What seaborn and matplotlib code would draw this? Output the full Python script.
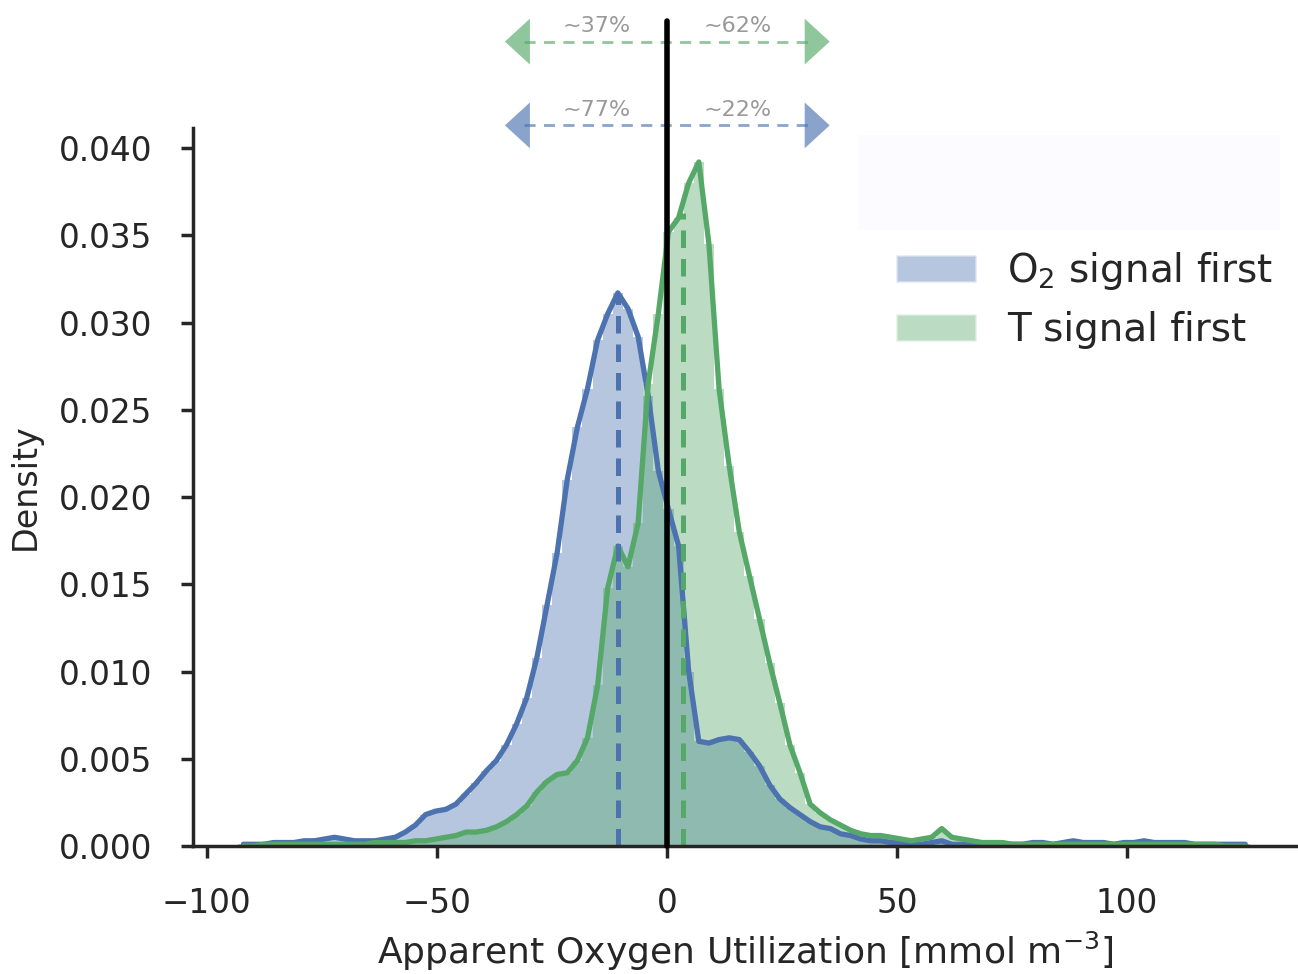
import numpy as np
import pandas as pd
import seaborn as sns
import matplotlib.pyplot as plt
from matplotlib.patches import Rectangle, Patch

# histogram bins (apparent oxygen utilization, mmol m-3)
bin_start = -92.05
bin_width = 2.2

o2_first = [0.0001, 0.0001, 0.0001, 0.0002, 0.0002, 0.0002, 0.0003, 0.0003, 0.0004, 0.0005,
            0.0004, 0.0003, 0.0003, 0.0003, 0.0004, 0.0005, 0.0008, 0.0012, 0.0018, 0.0020,
            0.0021, 0.0024, 0.0030, 0.0036, 0.0043, 0.0049, 0.0058, 0.0070, 0.0085, 0.0108,
            0.0138, 0.0168, 0.0210, 0.0240, 0.0262, 0.0290, 0.0305, 0.0317, 0.0308, 0.0292,
            0.0258, 0.0215, 0.0193, 0.0172, 0.0100, 0.0060, 0.0059, 0.0061, 0.0062, 0.0061,
            0.0054, 0.0046, 0.0035, 0.0027, 0.0022, 0.0018, 0.0014, 0.0011, 0.0010, 0.0007,
            0.0006, 0.0004, 0.0003, 0.0003, 0.0002, 0.0002, 0.0002, 0.0001, 0.0002, 0.0003,
            0.0001, 0.0001, 0.0001, 0.0001, 0.0001, 0.0001, 0.0001, 0.0001, 0.0002, 0.0002,
            0.0001, 0.0002, 0.0003, 0.0002, 0.0002, 0.0002, 0.0001, 0.0002, 0.0002, 0.0003,
            0.0002, 0.0002, 0.0002, 0.0002, 0.0001, 0.0001, 0.0001, 0.0001, 0.0001, 0.0001]

t_first = [0.0000, 0.0000, 0.0001, 0.0001, 0.0001, 0.0001, 0.0001, 0.0001, 0.0001, 0.0001,
           0.0001, 0.0001, 0.0001, 0.0002, 0.0002, 0.0002, 0.0002, 0.0003, 0.0003, 0.0004,
           0.0005, 0.0006, 0.0008, 0.0008, 0.0009, 0.0011, 0.0014, 0.0018, 0.0023, 0.0031,
           0.0037, 0.0041, 0.0042, 0.0049, 0.0062, 0.0092, 0.0148, 0.0172, 0.0160, 0.0185,
           0.0265, 0.0305, 0.0352, 0.0360, 0.0380, 0.0392, 0.0345, 0.0262, 0.0218, 0.0180,
           0.0155, 0.0130, 0.0105, 0.0082, 0.0058, 0.0042, 0.0024, 0.0019, 0.0015, 0.0012,
           0.0009, 0.0007, 0.0006, 0.0006, 0.0005, 0.0004, 0.0003, 0.0004, 0.0005, 0.0010,
           0.0005, 0.0004, 0.0003, 0.0002, 0.0002, 0.0002, 0.0001, 0.0001, 0.0001, 0.0001,
           0.0001, 0.0001, 0.0001, 0.0001, 0.0001, 0.0001, 0.0001, 0.0001, 0.0001, 0.0001,
           0.0001, 0.0001, 0.0001, 0.0001, 0.0001, 0.0001, 0.0001, 0.0000, 0.0000, 0.0000]

labels = ['O$_2$ signal first', 'T signal first']
medians = [-10.65, 3.5]
median_tops = [0.0316, 0.0363]
shares = [('~77%', '~22%'), ('~37%', '~62%')]
arrow_y = [0.0413, 0.0461]

sns.set_theme(context='poster', style='ticks', palette='deep')
blue, green = sns.color_palette('deep')[0], sns.color_palette('deep')[2]
colors = [blue, green]

centers = bin_start + bin_width * np.arange(len(o2_first))
lo, hi = centers[0] - bin_width / 2, centers[-1] + bin_width / 2

fig = plt.figure(figsize=(12.98, 9.74), dpi=100)
ax = fig.add_axes([0.1487, 0.1314, 0.8513, 0.7372])

# histograms first, lines on top
for dens, c in zip([o2_first, t_first], colors):
    df = pd.DataFrame({'aou': centers, 'density': dens})
    sns.histplot(data=df, x='aou', weights='density', binwidth=bin_width, binrange=(lo, hi),
                 stat='count', color=c, alpha=0.4, linewidth=0, ax=ax)
for dens, c in zip([o2_first, t_first], colors):
    sns.lineplot(x=centers, y=dens, color=c, lw=3.8, ax=ax)

for m, top, c in zip(medians, median_tops, colors):
    ax.plot([m, m], [0, top], color=c, lw=3.6, ls=(0, (3.5, 2.2)))

ax.plot([0, 0], [0, 0.0473], color='black', lw=4, clip_on=False, zorder=5)

# share arrows above the axes
for (left, right), y, c in zip(shares, arrow_y, colors):
    ax.plot([-31, 31], [y, y], color=c, alpha=0.65, lw=2, ls=(0, (4, 3)), clip_on=False)
    ax.annotate('', xy=(-35.2, y), xytext=(35.4, y), annotation_clip=False,
                arrowprops=dict(arrowstyle='<|-|>,head_length=18,head_width=16.5',
                                mutation_scale=1, lw=0, color=c, alpha=0.65,
                                shrinkA=0, shrinkB=0))
    ax.text(-15.2, y + 0.0003, left, ha='center', va='bottom', fontsize=16, color='0.6')
    ax.text(15.4, y + 0.0003, right, ha='center', va='bottom', fontsize=16, color='0.6')

ax.set_xlim(-103, 137.2)
ax.set_ylim(0, 0.04115)
ax.set_xticks([-100, -50, 0, 50, 100])
ax.set_yticks(np.arange(0, 0.0401, 0.005))
ax.set_yticklabels(['%.3f' % v for v in np.arange(0, 0.0401, 0.005)])
ax.tick_params(length=8.6, labelsize=23.5)
ax.tick_params(axis='x', pad=21)
ax.tick_params(axis='y', pad=21)
ax.set_xlabel('Apparent Oxygen Utilization [mmol m$^{-3}$]', fontsize=26, labelpad=7)
ax.set_ylabel('Density', fontsize=24, labelpad=12)
sns.despine(ax=ax)

fig.add_artist(Rectangle((858 / 1298, 1 - 230 / 974), 422 / 1298, 95 / 974,
                         transform=fig.transFigure, facecolor='#fcfbff', edgecolor='none'))

handles = [Patch(facecolor=c, alpha=0.4) for c in colors]
ax.legend(handles, labels, loc='upper left', bbox_to_anchor=(861 / 1298, 1 - 215 / 974),
          bbox_transform=fig.transFigure, frameon=False, fontsize=28,
          handlelength=2.06, handleheight=0.7, handletextpad=0.8, labelspacing=0.5,
          borderpad=0.4)

fig.savefig('out.png', dpi=100)
